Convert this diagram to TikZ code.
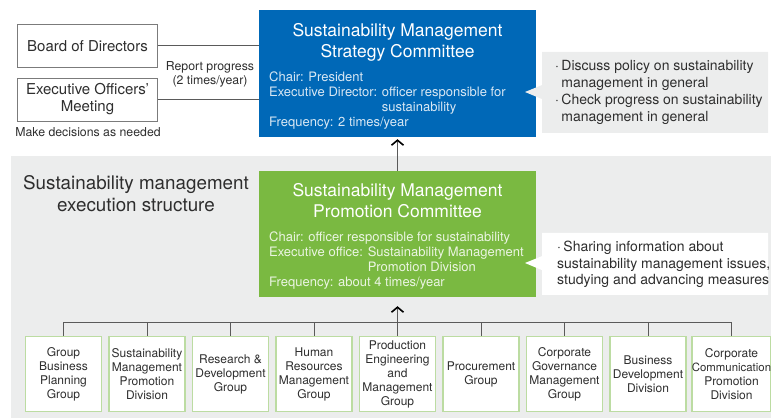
\documentclass[tikz,border=0pt]{standalone}
\usepackage{fontspec}
\setmainfont{TeX Gyre Heros}
\usetikzlibrary{arrows.meta,positioning,shapes.callouts}
\definecolor{stratblue}{HTML}{0068B7}
\definecolor{promgreen}{HTML}{7AB941}
\definecolor{bandgray}{HTML}{ECEDED}
\definecolor{unitgreen}{HTML}{BCDCA2}
\definecolor{linegray}{HTML}{5A5A5A}
\definecolor{txtgray}{HTML}{2E2E2E}
\colorlet{stratbody}{white!85!stratblue}
\colorlet{prombody}{white!85!promgreen}
\tikzset{
  govbox/.style={draw=linegray!80,line width=0.8pt,fill=white,minimum width=140pt,minimum height=43pt,
    inner sep=0pt,align=center,text=txtgray,font=\fontsize{15}{17}\selectfont},
  smalltxt/.style={inner sep=0pt,align=center,text=txtgray,font=\fontsize{12.3}{14}\selectfont},
  bandhead/.style={inner sep=0pt,align=center,text=txtgray,font=\fontsize{18.8}{22}\selectfont},
  committee/.style={minimum width=277pt,minimum height=127pt,inner sep=0pt},
  ctitle/.style={inner sep=0pt,align=center,text=white,font=\fontsize{17.5}{21}\selectfont},
  cbody/.style={inner sep=0pt,align=left,font=\fontsize{13}{15}\selectfont},
  note/.style={rectangle callout,callout pointer width=14pt,minimum width=226pt,inner sep=0pt},
  notetxt/.style={inner sep=0pt,align=left,anchor=north west,text=txtgray,font=\fontsize{14}{17}\selectfont},
  unit/.style={draw=unitgreen,line width=1.4pt,fill=white,minimum width=76pt,minimum height=75pt,
    inner sep=0pt,align=center,text=txtgray,font=\fontsize{12}{14}\selectfont},
  link/.style={linegray,line width=1pt},
  uparrow/.style={linegray,line width=1.2pt,shorten >=2pt,
    -{Straight Barb[color=black,length=5pt,width=12pt,line width=1.6pt]}}
}

\begin{document}
\begin{tikzpicture}[x=1pt,y=-1pt]
\useasboundingbox (0,0) rectangle (771,419);
% execution structure band
\fill[bandgray] (11,156) rectangle (771,418);
\node[bandhead,anchor=north] (exechead) at (136,175) {Sustainability management\\execution structure};

% board and officers
\node[govbox] (board) at (87.5,46) {Board of Directors};
\node[govbox] (eom) at (87.5,99.5) {Executive Officers'\\Meeting};
\node[smalltxt,anchor=base] (decide) at (88,137) {Make decisions as needed};

% strategy committee
\node[committee,fill=stratblue] (strat) at (397.5,73.5) {};
\node[ctitle,anchor=north] (strattitle) at (397.5,23) {Sustainability Management\\Strategy Committee};
\node[cbody,text=stratbody,anchor=north west] (stratbody) at (269,71.5)
  {Chair: President\\Executive Director: officer responsible for\\
   \phantom{Executive Director: }sustainability\\Frequency: 2 times/year};
\node[note,fill=bandgray,callout absolute pointer={(525,92)},minimum height=81pt] (stratnote) at (655,92.5) {};
\node[notetxt] (stratnotetxt) at (555,60.5)
  {·\,Discuss policy on sustainability\\\phantom{·\,}management in general\\
   ·\,Check progress on sustainability\\\phantom{·\,}management in general};

% promotion committee
\node[committee,fill=promgreen,minimum height=126pt] (prom) at (397.5,234) {};
\node[ctitle,anchor=north] (promtitle) at (397.5,183) {Sustainability Management\\Promotion Committee};
\node[cbody,text=prombody,anchor=north west] (prombody) at (269,231.5)
  {Chair: officer responsible for sustainability\\Executive office: Sustainability Management\\
   \phantom{Executive office: }Promotion Division\\Frequency: about 4 times/year};
\node[note,fill=white,callout absolute pointer={(525,263)},minimum height=62pt] (promnote) at (655,264) {};
\node[notetxt,font=\fontsize{14}{16.5}\selectfont] (promnotetxt) at (557,241)
  {·\,Sharing information about\\sustainability management issues,\\studying and advancing measures};

% reporting lines
\draw[link] (board.east) -- (board.east -| strat.west);
\draw[link] (eom.east) -- (eom.east -| strat.west);
\node[smalltxt,anchor=north] (report) at (210,61.5) {Report progress\\(2 times/year)};
\draw[uparrow] (prom.north) -- (strat.south);

% groups and divisions
\foreach \txt [count=\i] in {{Group\\Business\\Planning\\Group},
    {Sustainability\\Management\\Promotion\\Division},
    {Research \&\\Development\\Group},
    {Human\\Resources\\Management\\Group},
    {Production\\Engineering\\and\\Management\\Group},
    {Procurement\\Group},
    {Corporate\\Governance\\Management\\Group},
    {Business\\Development\\Division},
    {Corporate\\{\fontsize{11.4}{14}\selectfont Communication}\\Promotion\\Division}}
  \node[unit] (u\i) at ({63.5+83.5*(\i-1)},374) {\txt};
\draw[link] (u1.north) -- ++(0,-13) -| (u9.north);
\foreach \i in {2,3,4,6,7,8}
  \draw[link] (u\i.north) -- ++(0,-13);
\draw[uparrow,shorten >=9pt] (u5.north) -- (prom.south);
\end{tikzpicture}
\end{document}
